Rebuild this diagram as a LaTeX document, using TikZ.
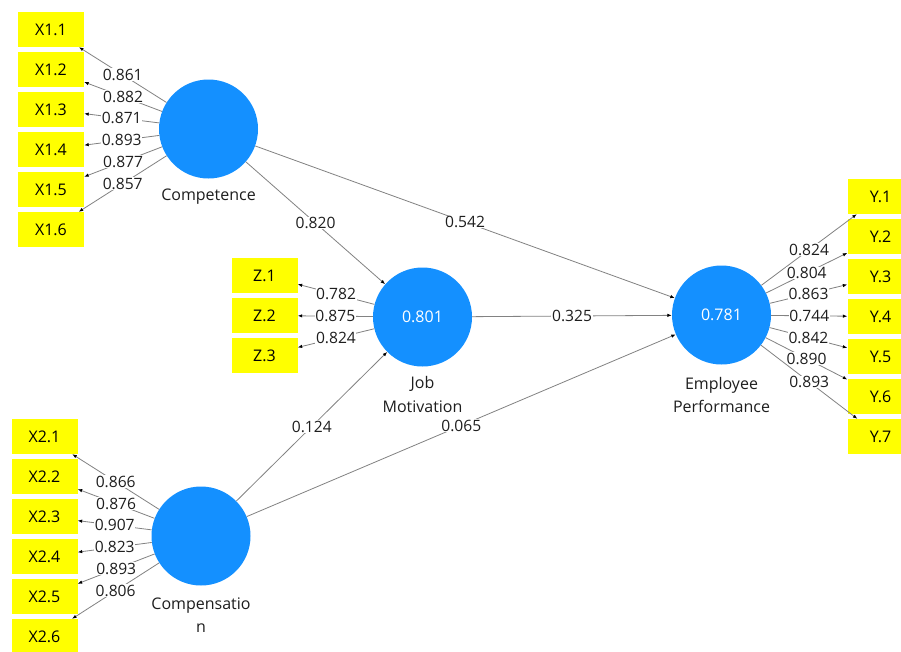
\documentclass[tikz,border=0pt]{standalone}
\usepackage{fontspec}
\setmainfont{Open Sans}
\usetikzlibrary{arrows.meta}
\definecolor{lvblue}{RGB}{20,144,255}
\definecolor{mvyellow}{RGB}{255,255,0}
\definecolor{linegray}{RGB}{130,130,130}
\definecolor{txt}{RGB}{30,30,30}
\begin{document}
\begin{tikzpicture}[x=1pt,y=-1pt,
  lv/.style={circle,fill=lvblue,minimum size=99pt,inner sep=0pt,text=white,font=\fontsize{16}{18}\selectfont},
  mv/.style={rectangle,fill=mvyellow,minimum width=66pt,minimum height=35pt,inner sep=0pt,text=black,font=\fontsize{16}{18}\selectfont},
  lvname/.style={font=\fontsize{16}{23.5}\selectfont,text=txt,align=center,inner sep=0pt},
  conn/.style={draw=linegray,line width=0.8pt,-{Latex[length=4.5pt,width=3.5pt,color=black]}},
  coef/.style={fill=white,inner sep=0.6pt,text=txt,font=\fontsize{15.6}{17}\selectfont}]
\useasboundingbox (0,0) rectangle (901,651);
\clip (0,0) rectangle (901,651);
\fill[white] (0,0) rectangle (901,651);

% latent variables
\node[lv] (C) at (208.5,129) {};
\node[lv] (JM) at (422.5,317) {0.801};
\node[lv] (EP) at (721.5,315) {0.781};
\node[lv] (CO) at (201,536) {};

\node[lvname] (Cn) at (208.5,197) {Competence};
\node[lvname] (JMn) at (422.5,394.5) {Job\\Motivation};
\node[lvname] (EPn) at (721.5,395) {Employee\\Performance};
\node[lvname] (COn) at (201,615) {Compensatio\\n};

% indicators X1
\node[mv] (X11) at (51,29.5) {X1.1};
\node[mv] (X12) at (51,69.5) {X1.2};
\node[mv] (X13) at (51,109.5) {X1.3};
\node[mv] (X14) at (51,149.5) {X1.4};
\node[mv] (X15) at (51,189.5) {X1.5};
\node[mv] (X16) at (51,229.5) {X1.6};

% indicators Z
\node[mv] (Z1) at (264.5,275.5) {Z.1};
\node[mv] (Z2) at (264.5,315.5) {Z.2};
\node[mv] (Z3) at (264.5,355.5) {Z.3};

% indicators Y
\node[mv] (Y1) at (880.5,196.5) {Y.1};
\node[mv] (Y2) at (880.5,236.5) {Y.2};
\node[mv] (Y3) at (880.5,276.5) {Y.3};
\node[mv] (Y4) at (880.5,316.5) {Y.4};
\node[mv] (Y5) at (880.5,356.5) {Y.5};
\node[mv] (Y6) at (880.5,396.5) {Y.6};
\node[mv] (Y7) at (880.5,436.5) {Y.7};

% indicators X2
\node[mv] (X21) at (44.5,436.5) {X2.1};
\node[mv] (X22) at (44.5,476.5) {X2.2};
\node[mv] (X23) at (44.5,516.5) {X2.3};
\node[mv] (X24) at (44.5,556.5) {X2.4};
\node[mv] (X25) at (44.5,596.5) {X2.5};
\node[mv] (X26) at (44.5,636.5) {X2.6};

% outer loadings
\draw[conn] (C) -- node[coef]{0.861} (X11);
\draw[conn] (C) -- node[coef]{0.882} (X12);
\draw[conn] (C) -- node[coef]{0.871} (X13);
\draw[conn] (C) -- node[coef]{0.893} (X14);
\draw[conn] (C) -- node[coef]{0.877} (X15);
\draw[conn] (C) -- node[coef]{0.857} (X16);

\draw[conn] (JM) -- node[coef]{0.782} (Z1);
\draw[conn] (JM) -- node[coef]{0.875} (Z2);
\draw[conn] (JM) -- node[coef]{0.824} (Z3);

\draw[conn] (EP) -- node[coef]{0.824} (Y1);
\draw[conn] (EP) -- node[coef]{0.804} (Y2);
\draw[conn] (EP) -- node[coef]{0.863} (Y3);
\draw[conn] (EP) -- node[coef]{0.744} (Y4);
\draw[conn] (EP) -- node[coef]{0.842} (Y5);
\draw[conn] (EP) -- node[coef]{0.890} (Y6);
\draw[conn] (EP) -- node[coef]{0.893} (Y7);

\draw[conn] (CO) -- node[coef]{0.866} (X21);
\draw[conn] (CO) -- node[coef]{0.876} (X22);
\draw[conn] (CO) -- node[coef]{0.907} (X23);
\draw[conn] (CO) -- node[coef]{0.823} (X24);
\draw[conn] (CO) -- node[coef]{0.893} (X25);
\draw[conn] (CO) -- node[coef]{0.806} (X26);

% path coefficients
\draw[conn] (C) -- node[coef]{0.820} (JM);
\draw[conn] (C) -- node[coef]{0.542} (EP);
\draw[conn] (JM) -- node[coef]{0.325} (EP);
\draw[conn] (CO) -- node[coef]{0.124} (JM);
\draw[conn] (CO) -- node[coef]{0.065} (EP);
\end{tikzpicture}
\end{document}
